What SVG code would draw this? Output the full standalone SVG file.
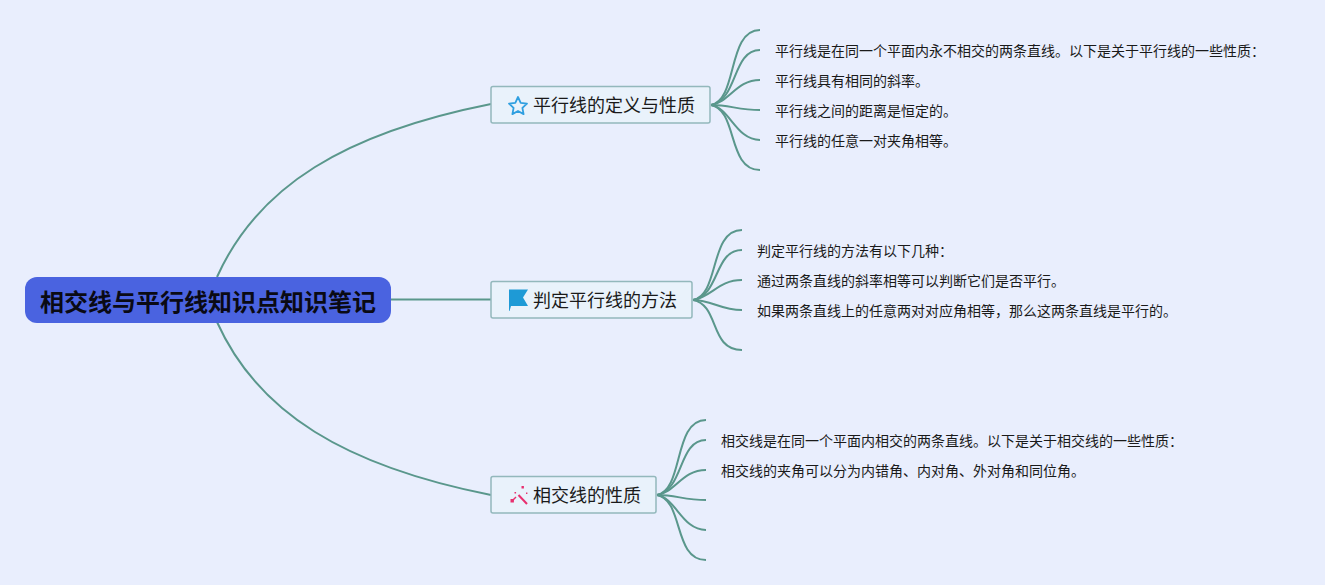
<svg xmlns="http://www.w3.org/2000/svg" width="1325" height="585" viewBox="0 0 1325 585">
<style>
text{font-family:"Noto Sans CJK SC","Noto Sans",sans-serif;fill:#1a1a1a}
.c{fill:none;stroke:#5a978c;stroke-width:2}
.b{fill:#e9f2fb;stroke:#93b8bc;stroke-width:1.5}
.t{font-size:18px}
.l{font-size:14px}
</style>
<rect width="1325" height="585" fill="#e9eefd"/>
<g id="connectors">
<path class="c" d="M217 277C258 186 345 133 491 104"/>
<path class="c" d="M391 299.500H491"/>
<path class="c" d="M217 322C258 413 345 466 491 495"/>
<path class="c" d="M711 105C738 100 727 30 760 30"/>
<path class="c" d="M711 105C738 100 732 50 760 50"/>
<path class="c" d="M711 105C730 102 736 80 760 80"/>
<path class="c" d="M711 105C730 105 738 110 760 110"/>
<path class="c" d="M711 105C730 108 736 140 760 140"/>
<path class="c" d="M711 105C738 110 727 170 760 170"/>
<path class="c" d="M693 300C720 295 709 230 742 230"/>
<path class="c" d="M693 300C720 295 714 250 742 250"/>
<path class="c" d="M693 300C712 297 718 280 742 280"/>
<path class="c" d="M693 300C712 300 720 310 742 310"/>
<path class="c" d="M693 300C720 305 709 350 742 350"/>
<path class="c" d="M657 495C684 490 673 420 706 420"/>
<path class="c" d="M657 495C684 490 678 440 706 440"/>
<path class="c" d="M657 495C676 492 682 470 706 470"/>
<path class="c" d="M657 495C676 495 684 500 706 500"/>
<path class="c" d="M657 495C676 498 682 530 706 530"/>
<path class="c" d="M657 495C684 500 673 560 706 560"/>
</g>
<g id="root">
<rect x="25" y="277" width="366" height="46" rx="12" fill="#4a63e0"/>
<text x="208" y="310.500" text-anchor="middle" font-size="24" font-weight="700" style="fill:#0a0a14">相交线与平行线知识点知识笔记</text>
</g>
<g id="node-definition">
<rect class="b" x="491" y="86.500" width="219" height="36.500" rx="2"/>
<path d="M518 97l2.700 5.800 6.300.8-4.600 4.300 1.200 6.200-5.600-3.100-5.600 3.100 1.200-6.200-4.600-4.300 6.300-.8z" fill="none" stroke="#2f9fe0" stroke-width="1.800" stroke-linejoin="round"/>
<text class="t" x="533" y="112">平行线的定义与性质</text>
</g>
<g id="node-method">
<rect class="b" x="491" y="281.500" width="201" height="36.500" rx="2"/>
<path d="M509 289.500H528L523 297.500L528 306H511L509.500 311H509Z" fill="#1e9ad6"/>
<text class="t" x="533" y="307">判定平行线的方法</text>
</g>
<g id="node-property">
<rect class="b" x="491" y="476.500" width="165" height="36.500" rx="2"/>
<path d="M518.500 495l8.500 9" fill="none" stroke="#e8306f" stroke-width="2"/>
<path d="M516 497l-3.500 3.500" fill="none" stroke="#e8306f" stroke-width="1.500"/>
<path d="M521.500 486h2.400v2.400h-2.400zM526 492.500h1.400v1.400H526zM510.500 499h3.400v3.400h-3.400zM514.500 492h1.600v1.600h-1.600z" fill="#e8306f"/>
<text class="t" x="533" y="502">相交线的性质</text>
</g>
<g id="leaves-definition">
<text class="l" x="775" y="56">平行线是在同一个平面内永不相交的两条直线。以下是关于平行线的一些性质：</text>
<text class="l" x="775" y="86">平行线具有相同的斜率。</text>
<text class="l" x="775" y="116">平行线之间的距离是恒定的。</text>
<text class="l" x="775" y="146">平行线的任意一对夹角相等。</text>
</g>
<g id="leaves-method">
<text class="l" x="757" y="256">判定平行线的方法有以下几种：</text>
<text class="l" x="757" y="286">通过两条直线的斜率相等可以判断它们是否平行。</text>
<text class="l" x="757" y="316">如果两条直线上的任意两对对应角相等，那么这两条直线是平行的。</text>
</g>
<g id="leaves-property">
<text class="l" x="721" y="446">相交线是在同一个平面内相交的两条直线。以下是关于相交线的一些性质：</text>
<text class="l" x="721" y="476">相交线的夹角可以分为内错角、内对角、外对角和同位角。</text>
</g>
</svg>
